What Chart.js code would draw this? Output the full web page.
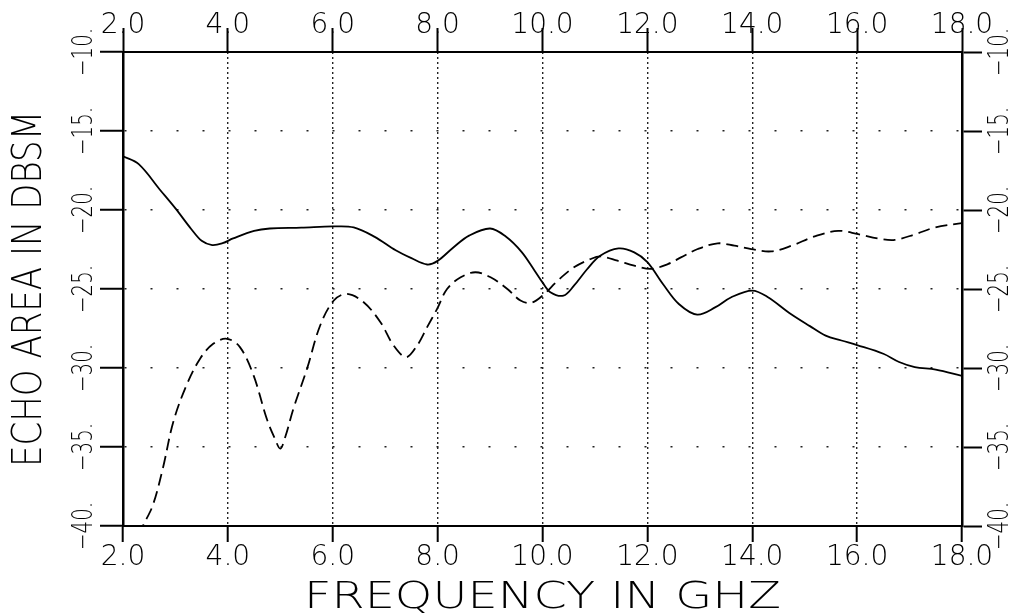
<!DOCTYPE html>
<html>
<head>
<meta charset="utf-8">
<title>Echo area vs frequency</title>
<script src="https://cdn.jsdelivr.net/npm/chart.js@4.4.0/dist/chart.umd.min.js"></script>
<style>
  html, body { margin: 0; padding: 0; background: #fff; }
</style>
</head>
<body>
<canvas id="echoChart" width="1016" height="615"></canvas>
<script>
// solid curve
var freqSolid = [2.0, 2.3, 2.7, 3.0, 3.3, 3.5, 3.7, 3.9, 4.1, 4.5, 4.8, 5.4, 6.0, 6.4, 6.8, 7.2, 7.5, 7.8, 8.0,
    8.3, 8.6, 9.0, 9.3, 9.6, 9.85, 10.0, 10.15, 10.4, 10.6, 10.85, 11.1, 11.45, 11.75, 12.0, 12.3, 12.6,
    12.95, 13.3, 13.6, 14.0, 14.3, 14.7, 15.1, 15.4, 15.7, 16.0, 16.5, 16.8, 17.1, 17.5, 18.0];
var echoSolid = [-16.6, -17.1, -18.7, -19.9, -21.2, -21.95, -22.22, -22.1, -21.8, -21.32, -21.17, -21.12,
    -21.04, -21.1, -21.7, -22.55, -23.05, -23.45, -23.22, -22.37, -21.62, -21.17, -21.68, -22.65, -23.84,
    -24.58, -25.2, -25.42, -24.79, -23.75, -22.9, -22.43, -22.68, -23.3, -24.7, -25.95, -26.62, -26.15,
    -25.52, -25.1, -25.52, -26.5, -27.35, -27.95, -28.26, -28.55, -29.1, -29.62, -29.94, -30.1, -30.5];

// dashed curve
var freqDashed = [2.3, 2.38, 2.57, 2.76, 2.96, 3.21, 3.47, 3.72, 3.98, 4.23, 4.49, 4.74, 4.9, 5.0, 5.1, 5.25,
    5.51, 5.76, 6.02, 6.27, 6.59, 6.91, 7.16, 7.4, 7.61, 7.8, 7.99, 8.18, 8.44, 8.72, 9.01, 9.33, 9.58,
    9.78, 10.0, 10.29, 10.6, 10.92, 11.11, 11.43, 11.75, 12.07, 12.39, 12.64, 12.96, 13.34, 13.66, 13.98,
    14.36, 14.75, 15.19, 15.64, 16.02, 16.4, 16.72, 17.11, 17.49, 18.0];
var echoDashed = [-40.6, -40.0, -38.67, -36.35, -33.4, -31.1, -29.41, -28.47, -28.15, -28.68, -30.47, -33.2,
    -34.5, -35.1, -34.3, -32.57, -30.04, -27.31, -25.73, -25.31, -25.84, -27.1, -28.57, -29.31, -28.57,
    -27.41, -26.26, -25.0, -24.26, -23.94, -24.26, -25.0, -25.73, -25.88, -25.42, -24.47, -23.63, -23.1,
    -22.94, -23.21, -23.52, -23.73, -23.42, -23.0, -22.47, -22.11, -22.26, -22.47, -22.62, -22.26, -21.67,
    -21.32, -21.53, -21.8, -21.89, -21.53, -21.1, -20.83];

var xTickValues = [2, 4, 6, 8, 10, 12, 14, 16, 18];
var xTickLabels = ['2.0', '4.0', '6.0', '8.0', '10.0', '12.0', '14.0', '16.0', '18.0'];
var yTickValues = [-40, -35, -30, -25, -20, -15, -10];
var yTickLabels = ['\u221240.', '\u221235.', '\u221230.', '\u221225.', '\u221220.', '\u221215.', '\u221210.'];
var xTitle = 'FREQUENCY IN GHZ';
var yTitle = 'ECHO AREA IN DBSM';

var FAMILY = "'DejaVu Sans', sans-serif";

function toPoints(xs, ys) {
    return xs.map(function(x, i) { return {x: x, y: ys[i]}; });
}

function setTicks(values) {
    return function(scale) {
        scale.ticks = values.map(function(v) { return {value: v}; });
    };
}

// draw text stretched to a given length (the plotter font is wide)
function drawText(ctx, text, cx, cy, angle, size, length) {
    ctx.save();
    ctx.font = '200 ' + size + 'px ' + FAMILY;
    ctx.fillStyle = '#000';
    ctx.textAlign = 'center';
    ctx.textBaseline = 'middle';
    var w = ctx.measureText(text).width;
    ctx.translate(cx, cy);
    ctx.rotate(angle);
    if (length) ctx.scale(length / w, 1);
    ctx.fillText(text, 0, 0);
    ctx.restore();
}

var textPlugin = {
    id: 'plotterText',
    afterDraw: function(chart) {
        var ctx = chart.ctx;
        var area = chart.chartArea;
        var yScale = chart.scales.y;
        yTickValues.forEach(function(v, i) {
            var py = yScale.getPixelForValue(v);
            drawText(ctx, yTickLabels[i], area.left - 39, py, -Math.PI / 2, 29, 48);
            drawText(ctx, yTickLabels[i], area.right + 38, py, -Math.PI / 2, 29, 48);
        });
        drawText(ctx, xTitle, (area.left + area.right) / 2, area.bottom + 72, 0, 37, 477);
        drawText(ctx, yTitle, 30, (area.top + area.bottom) / 2, -Math.PI / 2, 41, 356);
    }
};

var tickFont = {family: FAMILY, size: 28, weight: '200', lineHeight: 1};

var ctx = document.getElementById('echoChart').getContext('2d');
var echoChart = new Chart(ctx, {
    type: 'line',
    data: {
        datasets: [{
            data: toPoints(freqSolid, echoSolid),
            borderColor: '#000',
            borderWidth: 1.8,
            pointRadius: 0,
            tension: 0.35,
            fill: false
        }, {
            data: toPoints(freqDashed, echoDashed),
            borderColor: '#000',
            borderWidth: 1.8,
            borderDash: [12, 6],
            pointRadius: 0,
            tension: 0.35,
            fill: false
        }]
    },
    options: {
        responsive: false,
        animation: false,
        layout: {padding: 0},
        plugins: {
            legend: {display: false},
            tooltip: {enabled: false}
        },
        scales: {
            x: {
                type: 'linear',
                position: 'bottom',
                min: 2,
                max: 18,
                afterBuildTicks: setTicks(xTickValues),
                afterFit: function(s) { s.height = 89; },
                ticks: {
                    font: tickFont,
                    color: '#000',
                    padding: 2,
                    maxRotation: 0,
                    autoSkip: false,
                    callback: function(v, i) { return xTickLabels[i]; }
                },
                grid: {color: '#222', lineWidth: 1.4, tickLength: 16, tickWidth: 2, tickColor: '#000'},
                border: {color: '#000', width: 2, dash: [2, 3]}
            },
            x2: {
                type: 'linear',
                position: 'top',
                min: 2,
                max: 18,
                afterBuildTicks: setTicks(xTickValues),
                afterFit: function(s) { s.height = 52; },
                ticks: {
                    font: tickFont,
                    color: '#000',
                    padding: -12,
                    maxRotation: 0,
                    autoSkip: false,
                    callback: function(v, i) { return xTickLabels[i]; }
                },
                grid: {drawOnChartArea: false, tickLength: 24, tickWidth: 2, tickColor: '#000'},
                border: {color: '#000', width: 2}
            },
            y: {
                type: 'linear',
                position: 'left',
                min: -40,
                max: -10,
                afterBuildTicks: setTicks(yTickValues),
                afterFit: function(s) { s.width = 123; },
                ticks: {display: false},
                grid: {color: '#222', lineWidth: 1.5, tickLength: 23, tickWidth: 2, tickColor: '#000'},
                border: {color: '#000', width: 2.5, dash: [2, 24]}
            },
            y2: {
                type: 'linear',
                position: 'right',
                min: -40,
                max: -10,
                afterBuildTicks: setTicks(yTickValues),
                afterFit: function(s) { s.width = 54; },
                ticks: {display: false},
                grid: {drawOnChartArea: false, tickLength: 20, tickWidth: 2, tickColor: '#000'},
                border: {color: '#000', width: 2.5}
            }
        }
    },
    plugins: [textPlugin]
});
</script>
</body>
</html>
